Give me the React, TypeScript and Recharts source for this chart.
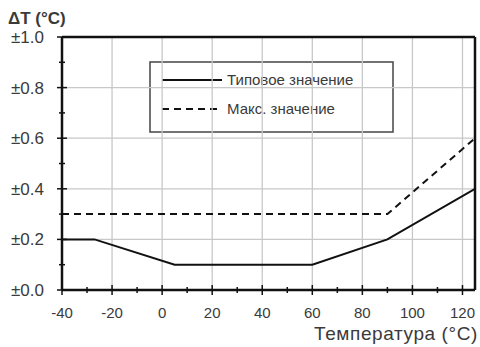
import React from 'react'
import { LineChart, Line, XAxis, YAxis, ReferenceLine, Customized } from 'recharts'

const typTemp = [-40, -27, 5, 60, 90, 125]
const typVal = [0.2, 0.2, 0.1, 0.1, 0.2, 0.4]
const maxTemp = [-40, 90, 125]
const maxVal = [0.3, 0.3, 0.6]
const xTicks = [-40, -30, -20, -10, 0, 10, 20, 30, 40, 50, 60, 70, 80, 90, 100, 110, 120]
const xMajor = [-40, -20, 0, 20, 40, 60, 80, 100, 120]
const yTicks = [0, 0.1, 0.2, 0.3, 0.4, 0.5, 0.6, 0.7, 0.8, 0.9, 1.0]
const yMajor = [0, 0.2, 0.4, 0.6, 0.8, 1.0]
const legendNames = ['Типовое значение', 'Макс. значение']

const FONT = '"Liberation Sans", Arial, sans-serif'
const TXT = '#3a3a3a'
const GRID = '#c8c8c8'

const typData = typTemp.map((t, i) => ({ t, v: typVal[i] }))
const maxData = maxTemp.map((t, i) => ({ t, v: maxVal[i] }))

const isMajor = (arr: number[], v: number) => arr.some(m => Math.abs(m - v) < 1e-6)

const XTick = (p: any) => {
  const v = p.payload.value
  const maj = isMajor(xMajor, v)
  return (
    <g>
      <line x1={p.x} x2={p.x} y1={p.y - (maj ? 5 : 3)} y2={p.y + (maj ? 5 : 3)} stroke="#111" strokeWidth={1.5}/>
      {maj && <text x={p.x} y={p.y + 28} textAnchor="middle" fontFamily={FONT} fontSize={15} fill={TXT}>{v}</text>}
    </g>
  )
}

const YTick = (p: any) => {
  const v = p.payload.value
  const maj = isMajor(yMajor, v)
  return (
    <g>
      <line x1={p.x - (maj ? 5 : 3)} x2={p.x + (maj ? 5 : 3)} y1={p.y} y2={p.y} stroke="#111" strokeWidth={1.5}/>
      {maj && <text x={p.x - 18} y={p.y + 6} textAnchor="end" fontFamily={FONT} fontSize={17} fill={TXT}>{`±${v.toFixed(1)}`}</text>}
    </g>
  )
}

const Legend = () => (
  <g fontFamily={FONT} fontSize={15} fill={TXT}>
    <rect x={150} y={62} width={243} height={70} fill="#fff" stroke="#444" strokeWidth={1.5}/>
    <line x1={162} x2={222} y1={80} y2={80} stroke="#111" strokeWidth={2}/>
    <text x={227} y={85}>{legendNames[0]}</text>
    <line x1={162} x2={222} y1={109} y2={109} stroke="#111" strokeWidth={2} strokeDasharray="7 5"/>
    <text x={227} y={114}>{legendNames[1]}</text>
  </g>
)

const Titles = () => (
  <g fontFamily={FONT} fill={TXT}>
    <text x={8} y={24} fontSize={17} fontWeight="bold">ΔT (°C)</text>
    <text x={478} y={340} fontSize={19} letterSpacing={0.6} textAnchor="end">Температура (°C)</text>
  </g>
)

export default function App() {
  return (
    <div style={{ position: 'absolute', left: 0, top: 0, background: '#fff' }}>
      <LineChart width={480} height={347} margin={{ top: 37, right: 5, left: 12, bottom: 27 }}>
        <XAxis type="number" dataKey="t" domain={[-40, 125]} ticks={xTicks} interval={0} allowDataOverflow
          tick={<XTick/>} tickLine={false} tickSize={0} tickMargin={0} height={30}
          axisLine={{ stroke: '#111', strokeWidth: 2.5 }}/>
        <YAxis type="number" dataKey="v" domain={[0, 1]} ticks={yTicks} interval={0} allowDataOverflow
          tick={<YTick/>} tickLine={false} tickSize={0} tickMargin={0} width={50}
          axisLine={{ stroke: '#111', strokeWidth: 2.5 }}/>
        <ReferenceLine x={-20} stroke={GRID} strokeWidth={1.3}/>
        <ReferenceLine x={0} stroke={GRID} strokeWidth={1.3}/>
        <ReferenceLine x={20} stroke={GRID} strokeWidth={1.3}/>
        <ReferenceLine x={40} stroke={GRID} strokeWidth={1.3}/>
        <ReferenceLine x={60} stroke={GRID} strokeWidth={1.3}/>
        <ReferenceLine x={80} stroke={GRID} strokeWidth={1.3}/>
        <ReferenceLine x={100} stroke={GRID} strokeWidth={1.3}/>
        <ReferenceLine x={120} stroke={GRID} strokeWidth={1.3}/>
        <ReferenceLine y={0.2} stroke={GRID} strokeWidth={1.3}/>
        <ReferenceLine y={0.4} stroke={GRID} strokeWidth={1.3}/>
        <ReferenceLine y={0.6} stroke={GRID} strokeWidth={1.3}/>
        <ReferenceLine y={0.8} stroke={GRID} strokeWidth={1.3}/>
        <ReferenceLine x={125} stroke="#111" strokeWidth={2.5}/>
        <ReferenceLine y={1} stroke="#111" strokeWidth={2.5}/>
        <Line data={maxData} dataKey="v" type="linear" stroke="#111" strokeWidth={2}
          strokeDasharray="7 5" dot={false} isAnimationActive={false}/>
        <Line data={typData} dataKey="v" type="linear" stroke="#111" strokeWidth={2}
          dot={false} isAnimationActive={false}/>
        <Customized component={<Legend/>}/>
        <Customized component={<Titles/>}/>
      </LineChart>
    </div>
  )
}
